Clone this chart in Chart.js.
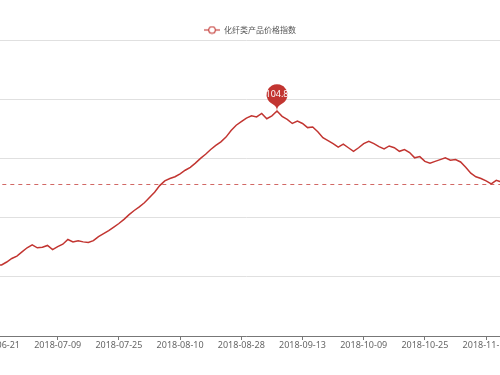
<!DOCTYPE html>
<html>
<head>
<meta charset="utf-8">
<script src="https://cdn.jsdelivr.net/npm/chart.js@4.4.0/dist/chart.umd.min.js"></script>
<style>
  html, body { margin: 0; padding: 0; background: #fff; }
  #wrap { position: relative; width: 500px; height: 375px; overflow: hidden; }
  #myChart { position: absolute; left: -20px; top: 0; }
</style>
</head>
<body>
<div id="wrap"><canvas id="myChart" width="540" height="375"></canvas></div>
<script>
const seriesName = '化纤类产品价格指数'
const dates = [
  '2018-06-19','2018-06-20','2018-06-21','2018-06-22','2018-06-25','2018-06-26','2018-06-27','2018-06-28','2018-06-29',
  '2018-07-02','2018-07-03','2018-07-04','2018-07-05','2018-07-06','2018-07-09','2018-07-10','2018-07-11','2018-07-12','2018-07-13',
  '2018-07-16','2018-07-17','2018-07-18','2018-07-19','2018-07-20','2018-07-23','2018-07-24','2018-07-25','2018-07-26','2018-07-27',
  '2018-07-30','2018-07-31','2018-08-01','2018-08-02','2018-08-03','2018-08-06','2018-08-07','2018-08-08','2018-08-09','2018-08-10',
  '2018-08-13','2018-08-14','2018-08-15','2018-08-16','2018-08-17','2018-08-20','2018-08-21','2018-08-22','2018-08-23','2018-08-24',
  '2018-08-27','2018-08-28','2018-08-29','2018-08-30','2018-08-31','2018-09-03','2018-09-04','2018-09-05','2018-09-06','2018-09-07',
  '2018-09-10','2018-09-11','2018-09-12','2018-09-13','2018-09-14','2018-09-17','2018-09-18','2018-09-19','2018-09-20','2018-09-21',
  '2018-09-25','2018-09-26','2018-09-27','2018-09-28','2018-10-08','2018-10-09','2018-10-10','2018-10-11','2018-10-12',
  '2018-10-15','2018-10-16','2018-10-17','2018-10-18','2018-10-19','2018-10-22','2018-10-23','2018-10-24','2018-10-25','2018-10-26',
  '2018-10-29','2018-10-30','2018-10-31','2018-11-01','2018-11-02','2018-11-05','2018-11-06','2018-11-07','2018-11-08','2018-11-09',
  '2018-11-12','2018-11-13','2018-11-14','2018-11-15','2018-11-16'
]
const priceIndex = [
  102.17, 102.19, 102.20, 102.20, 102.25, 102.31, 102.35, 102.42, 102.49,
  102.54, 102.49, 102.50, 102.53, 102.46, 102.51, 102.55, 102.63, 102.59, 102.61,
  102.59, 102.58, 102.61, 102.68, 102.73, 102.78, 102.84, 102.90, 102.97, 103.05,
  103.12, 103.18, 103.25, 103.34, 103.43, 103.54, 103.62, 103.66, 103.69, 103.74,
  103.80, 103.85, 103.92, 104.00, 104.07, 104.15, 104.22, 104.28, 104.36, 104.47,
  104.56, 104.62, 104.68, 104.72, 104.70, 104.76, 104.67, 104.72, 104.80, 104.71,
  104.66, 104.59, 104.63, 104.59, 104.52, 104.53, 104.45, 104.35, 104.30, 104.25,
  104.19, 104.24, 104.18, 104.12, 104.18, 104.25, 104.29, 104.25, 104.20,
  104.16, 104.21, 104.18, 104.12, 104.15, 104.10, 104.01, 104.03, 103.95, 103.92,
  103.95, 103.98, 104.01, 103.97, 103.98, 103.94, 103.85, 103.75, 103.69, 103.66,
  103.62, 103.57, 103.63, 103.60, 103.58
]
const yTicks = [101, 102, 103, 104, 105, 106]
const averageValue = [103.56]
const labelStart = 2
const labelEvery = 12

const red = '#c23531'
const isLabeled = i => i >= labelStart && (i - labelStart) % labelEvery === 0

// legend icon: short line with a hollow circle
const legendIcon = document.createElement('canvas')
legendIcon.width = 16
legendIcon.height = 9
;(function () {
  const c = legendIcon.getContext('2d')
  c.strokeStyle = red
  c.lineWidth = 1.1
  c.beginPath(); c.moveTo(0, 4.5); c.lineTo(16, 4.5); c.stroke()
  c.beginPath(); c.arc(8, 4.5, 3.3, 0, Math.PI * 2)
  c.fillStyle = '#fff'; c.fill(); c.stroke()
})()

const legendPlugin = {
  id: 'legendPlugin',
  afterDraw(chart) {
    const ctx = chart.ctx
    ctx.save()
    ctx.font = '8px "Noto Sans CJK SC"'
    const tw = ctx.measureText(seriesName).width
    const total = 16 + 4 + tw
    const x0 = chart.width / 2 - total / 2
    ctx.drawImage(legendIcon, x0, 30 - 4.5)
    ctx.fillStyle = '#555'
    ctx.textBaseline = 'middle'
    ctx.fillText(seriesName, x0 + 20, 30)
    ctx.restore()
  }
}

const averagePlugin = {
  id: 'averagePlugin',
  afterDatasetsDraw(chart) {
    const {ctx, chartArea, scales} = chart
    const y = Math.round(scales.y.getPixelForValue(averageValue[0])) + 0.5
    ctx.save()
    ctx.strokeStyle = 'rgba(194,53,49,0.75)'
    ctx.lineWidth = 1
    ctx.setLineDash([4, 4])
    ctx.beginPath()
    ctx.moveTo(chartArea.left, y)
    ctx.lineTo(chartArea.right, y)
    ctx.stroke()
    ctx.restore()
  }
}

const pinPlugin = {
  id: 'pinPlugin',
  afterDatasetsDraw(chart) {
    const {ctx, scales} = chart
    let maxI = 0
    priceIndex.forEach((v, i) => { if (v > priceIndex[maxI]) maxI = i })
    const x = scales.x.getPixelForValue(maxI)
    const y = scales.y.getPixelForValue(priceIndex[maxI])
    const r = 10.5, h = 32
    const dy = r * r / (h - r)
    const cy = y - h + r + dy
    const angle = Math.asin(dy / r)
    const dx = Math.cos(angle) * r
    const tanX = Math.sin(angle), tanY = Math.cos(angle)
    const cp1 = r * 0.6, cp2 = r * 0.7
    ctx.save()
    ctx.beginPath()
    ctx.moveTo(x - dx, cy + dy)
    ctx.arc(x, cy, r, Math.PI - angle, Math.PI * 2 + angle)
    ctx.bezierCurveTo(x + dx - tanX * cp1, cy + dy + tanY * cp1, x, y - cp2, x, y)
    ctx.bezierCurveTo(x, y - cp2, x - dx + tanX * cp1, cy + dy + tanY * cp1, x - dx, cy + dy)
    ctx.closePath()
    ctx.fillStyle = red
    ctx.fill()
    ctx.fillStyle = '#fff'
    ctx.font = '9px "Noto Sans"'
    ctx.textAlign = 'center'
    ctx.textBaseline = 'middle'
    ctx.fillText(priceIndex[maxI].toFixed(1), x, cy)
    ctx.restore()
  }
}

const ctx = document.getElementById('myChart').getContext('2d')
const myChart = new Chart(ctx, {
  type: 'line',
  data: {
    labels: dates,
    datasets: [{
      label: seriesName,
      data: priceIndex,
      borderColor: red,
      backgroundColor: red,
      borderWidth: 1.5,
      pointRadius: 0,
      pointHoverRadius: 0,
      tension: 0,
      fill: false
    }]
  },
  options: {
    responsive: false,
    animation: false,
    events: [],
    layout: { padding: { left: 6.3, right: 13.5, top: 40, bottom: 24.2 } },
    plugins: { legend: { display: false }, tooltip: { enabled: false } },
    scales: {
      x: {
        type: 'category',
        offset: false,
        grid: {
          drawOnChartArea: false,
          drawTicks: true,
          tickLength: 4,
          tickColor: c => isLabeled(c.index) ? '#777' : 'rgba(0,0,0,0)'
        },
        border: { color: '#777', width: 1 },
        ticks: {
          autoSkip: false,
          maxRotation: 0,
          minRotation: 0,
          padding: 0,
          color: '#666',
          font: { size: 9, family: '"Noto Sans"' },
          callback: (v, i) => isLabeled(i) ? dates[i] : ''
        }
      },
      y: {
        min: yTicks[0],
        max: yTicks[yTicks.length - 1],
        afterBuildTicks: s => { s.ticks = yTicks.map(v => ({ value: v })) },
        grid: { color: '#e0e0e0', drawTicks: false },
        border: { display: false },
        ticks: { display: false }
      }
    }
  },
  plugins: [averagePlugin, pinPlugin, legendPlugin]
})
</script>
</body>
</html>
